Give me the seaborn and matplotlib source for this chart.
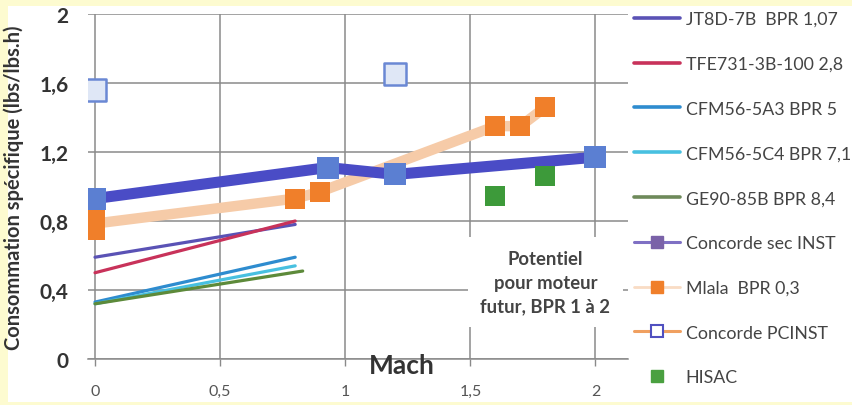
import matplotlib
matplotlib.use("Agg")
import matplotlib.pyplot as plt
import seaborn as sns
import pandas as pd
from matplotlib.lines import Line2D
from matplotlib.patches import Rectangle

# ---- data ----
jt8d_x = [0, 0.8]; jt8d_y = [0.59, 0.78]
tfe_x = [0, 0.8]; tfe_y = [0.50, 0.80]
cfm5a3_x = [0, 0.8]; cfm5a3_y = [0.33, 0.59]
cfm5c4_x = [0, 0.8]; cfm5c4_y = [0.32, 0.54]
ge90_x = [0, 0.83]; ge90_y = [0.32, 0.51]
conc_sec_x = [0, 0.93, 1.2, 2.0]; conc_sec_y = [0.93, 1.11, 1.07, 1.17]
mlala_x = [0, 0, 0.8, 0.9, 1.6, 1.7, 1.8]; mlala_y = [0.75, 0.82, 0.93, 0.97, 1.35, 1.35, 1.46]
conc_pc_x = [0, 1.2]; conc_pc_y = [1.56, 1.65]
hisac_x = [1.6, 1.8]; hisac_y = [0.945, 1.06]

x_ticks = [0, 0.5, 1, 1.5, 2]
x_tick_labels = ["0", "0,5", "1", "1,5", "2"]
y_ticks = [0, 0.4, 0.8, 1.2, 1.6, 2]
y_tick_labels = ["0", "0,4", "0,8", "1,2", "1,6", "2"]
labels = ["JT8D-7B  BPR 1,07", "TFE731-3B-100 2,8", "CFM56-5A3 BPR 5",
          "CFM56-5C4 BPR 7,1", "GE90-85B BPR 8,4", "Concorde sec INST",
          "Mlala  BPR 0,3", "Concorde PCINST", "HISAC"]

sns.set_theme(style="white")
plt.rcParams['font.family'] = ['Lato', 'DejaVu Sans']

fig = plt.figure(figsize=(8.53, 4.06), dpi=100)
fig.patch.set_facecolor("#fdfbd0")
fig.patches.append(Rectangle((8/853, 3/406), (853-8)/853, (406-3-7)/406,
                             transform=fig.transFigure, facecolor="white",
                             edgecolor="none", zorder=-10))
ax = fig.add_axes([88/853, 1-360/406, (628-88)/853, (360-15)/406])
ax.set_facecolor("none")

thin = 2.3
c_jt8d, c_tfe, c_5a3, c_5c4, c_ge = "#5a52b5", "#c8325a", "#2e8ccf", "#48c0e0", "#5d8a3a"
sns.lineplot(x=jt8d_x, y=jt8d_y, ax=ax, color=c_jt8d, lw=thin, zorder=3)
sns.lineplot(x=tfe_x, y=tfe_y, ax=ax, color=c_tfe, lw=thin, zorder=3)
sns.lineplot(x=cfm5a3_x, y=cfm5a3_y, ax=ax, color=c_5a3, lw=thin, zorder=3)
sns.lineplot(x=cfm5c4_x, y=cfm5c4_y, ax=ax, color=c_5c4, lw=thin, zorder=3)
sns.lineplot(x=ge90_x, y=ge90_y, ax=ax, color=c_ge, lw=thin, zorder=3)

sns.lineplot(x=mlala_x, y=mlala_y, ax=ax, sort=False, color="#f6cba8", lw=7.5, zorder=4)
sns.scatterplot(x=mlala_x, y=mlala_y, ax=ax, marker="s", s=190, color="#f07f2a",
                edgecolor="#f07f2a", linewidth=0, zorder=5)
sns.lineplot(x=conc_sec_x, y=conc_sec_y, ax=ax, sort=False, color="#4a4cc6", lw=8, zorder=6)
sns.scatterplot(x=conc_sec_x, y=conc_sec_y, ax=ax, marker="s", s=260, color="#5b7fd2",
                edgecolor="#5b7fd2", linewidth=0, zorder=7)
sns.scatterplot(x=conc_pc_x, y=conc_pc_y, ax=ax, marker="s", s=260, color="#dfe7f6",
                edgecolor="#6a88d4", linewidth=1.8, zorder=7)
sns.scatterplot(x=hisac_x, y=hisac_y, ax=ax, marker="s", s=200, color="#3d9a3a",
                edgecolor="#3d9a3a", linewidth=0, zorder=7)

ax.set_xlim(-0.028, 2.13)
ax.set_ylim(0, 2)
ax.set_xticks(x_ticks)
ax.set_xticklabels(x_tick_labels, fontsize=11.5, color="#555555")
ax.set_yticks(y_ticks)
ax.set_yticklabels(y_tick_labels, fontsize=15, fontweight="bold", color="#333333")
ax.grid(True, color="#8a8a8a", lw=1.1)
for s in ["left", "right", "top"]:
    ax.spines[s].set_visible(False)
ax.spines["bottom"].set_color("#8a8a8a")
ax.spines["bottom"].set_linewidth(1.1)
ax.tick_params(axis="x", length=5, width=1, color="#8a8a8a", pad=13, direction="out", bottom=True)
ax.tick_params(axis="y", length=0, pad=14)
ax.set_xlabel("")
ax.set_ylabel("")

ax.text(1.8, 0.445, "Potentiel\npour moteur\nfutur, BPR 1 à 2", ha="center", va="center",
        fontsize=13.3, fontweight="bold", color="#444444", linespacing=1.5,
        bbox=dict(facecolor="white", edgecolor="none", pad=9), zorder=8)

fig.text(402/853, 1-366/406, "Mach", ha="center", va="center", fontsize=19,
         fontweight="bold", color="#333333")
fig.text(14/853, 1-188/406, "Consommation spécifique (lbs/lbs.h)", rotation=90,
         ha="center", va="center", fontsize=14.5, fontweight="bold", color="#333333")

handles = [
    Line2D([], [], color=c_jt8d, lw=2.6),
    Line2D([], [], color=c_tfe, lw=2.6),
    Line2D([], [], color=c_5a3, lw=2.6),
    Line2D([], [], color=c_5c4, lw=2.6),
    Line2D([], [], color="#6e8a5a", lw=2.6),
    Line2D([], [], color="#7f70c4", lw=2.2, marker="s", markersize=9,
           markerfacecolor="#7a62a8", markeredgecolor="#7a62a8"),
    Line2D([], [], color="#f9dcc4", lw=2, marker="s", markersize=9,
           markerfacecolor="#f07f2a", markeredgecolor="#f07f2a"),
    Line2D([], [], color="#f0a060", lw=2.2, marker="s", markersize=9,
           markerfacecolor="white", markeredgecolor="#5050c0", markeredgewidth=1.5),
    Line2D([], [], color="none", lw=0, marker="s", markersize=9,
           markerfacecolor="#4aa040", markeredgecolor="#4aa040"),
]
leg = fig.legend(handles, labels, loc="upper left", bbox_to_anchor=(634/853, 1-12/406),
                 frameon=False, fontsize=12.8, handlelength=2.6, handletextpad=0.3,
                 labelspacing=1.62, borderaxespad=0, borderpad=0)
for t in leg.get_texts():
    t.set_color("#444444")

fig.savefig("out.png", dpi=100)
